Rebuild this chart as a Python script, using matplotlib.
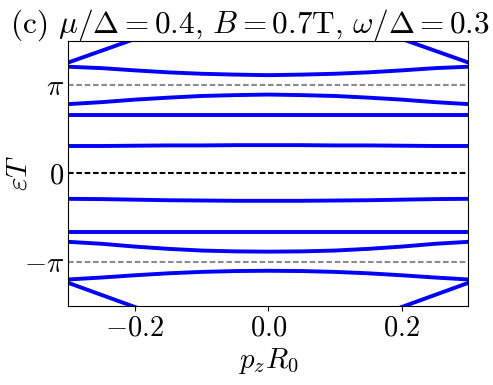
import numpy as np
import matplotlib
matplotlib.use("Agg")
import matplotlib.pyplot as plt

plt.rcParams['mathtext.fontset'] = 'cm'
plt.rcParams['font.family'] = ['cmr10', 'DejaVu Serif']
plt.rcParams['axes.unicode_minus'] = False

# momentum samples (half grid, mirrored for symmetric bands)
p_half = [-0.3, -0.25, -0.2, -0.15, -0.1, -0.05, 0.0]

# quasi-energy bands eps*T (left half, symmetric in p)
band_B = [3.79, 3.74, 3.66, 3.59, 3.54, 3.51, 3.49]
band_C = [2.46, 2.53, 2.62, 2.69, 2.75, 2.78, 2.80]
band_D = [2.08, 2.08, 2.08, 2.08, 2.08, 2.08, 2.08]
band_E = [0.97, 0.97, 0.98, 0.99, 0.99, 1.00, 1.00]
band_F = [-0.91, -0.92, -0.94, -0.96, -0.97, -0.98, -0.98]
band_G = [-2.09, -2.09, -2.09, -2.09, -2.09, -2.09, -2.09]
band_H = [-2.44, -2.51, -2.61, -2.69, -2.75, -2.78, -2.79]
band_I = [-3.78, -3.71, -3.63, -3.56, -3.51, -3.48, -3.47]

# steep bands near the zone edges (only the outer parts)
p_edge = [-0.3, -0.25, -0.2]
band_A = [3.94, 4.36, 4.78]
band_J = [-3.90, -4.33, -4.76]

xticks = [-0.2, 0.0, 0.2]
xticklabels = [r'$-0.2$', r'$0.0$', r'$0.2$']
yticks = [-np.pi, 0.0, np.pi]
yticklabels = [r'$-\pi$', r'$0$', r'$\pi$']

title = r'(c) $\mu/\Delta=0.4,\,B=0.7\mathrm{T},\,\omega/\Delta=0.3$'

fig = plt.figure(figsize=(4.93, 3.85), dpi=100)
ax = fig.add_axes([0.1385, 0.206, 0.8115, 0.688])

def mirror(p, v):
    p = np.asarray(p); v = np.asarray(v)
    return np.concatenate([p, -p[::-1][1:]]), np.concatenate([v, v[::-1][1:]])

blue = '#0000ff'
lw = 2.8
for band in [band_B, band_C, band_D, band_E, band_F, band_G, band_H, band_I]:
    x, y = mirror(p_half, band)
    ax.plot(x, y, color=blue, lw=lw, solid_capstyle='butt')
for band in [band_A, band_J]:
    ax.plot(p_edge, band, color=blue, lw=lw)
    ax.plot(-np.asarray(p_edge), band, color=blue, lw=lw)

dash = (0, (2.7, 1.3))
ax.axhline(np.pi, color='#8c8c8c', ls=dash, lw=1.5)
ax.axhline(-np.pi, color='#8c8c8c', ls=dash, lw=1.5)
ax.axhline(0.0, color='black', ls=dash, lw=1.5)

ax.set_xlim(-0.3, 0.3)
ax.set_ylim(-1.5 * np.pi, 1.5 * np.pi)
ax.set_xticks(xticks)
ax.set_xticklabels(xticklabels, fontsize=20.5)
ax.set_yticks(yticks)
ax.set_yticklabels(yticklabels, fontsize=20.5)
ax.tick_params(axis='y', length=0, pad=3)
ax.set_xlabel(r'$p_zR_0$', fontsize=21, labelpad=3)
ax.set_ylabel(r'$\varepsilon T$', fontsize=21)
ax.yaxis.set_label_coords(-0.09, 0.5)

fig.text(10 / 493, 1 - 33 / 385, title, fontsize=22.5, ha='left', va='baseline')

fig.savefig('out.png', dpi=100)
